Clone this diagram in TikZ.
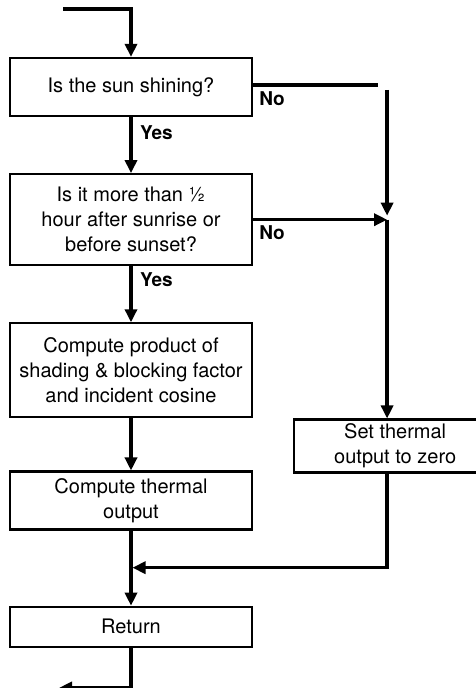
\documentclass[tikz,border=0pt]{standalone}
\usepackage{fontspec}
\setmainfont{TeX Gyre Heros}
\usetikzlibrary{arrows.meta, positioning, calc}
\tikzstyle{arrow} = [line width=3.5pt, -{Triangle[length=13pt,width=12pt]}]
\tikzstyle{line} = [line width=3.5pt]
\tikzstyle{basic} = [rectangle, draw=black, line width=2.2pt, fill=white, text=black, align=center, font=\fontsize{20}{25}\selectfont, minimum width=242pt]
\tikzstyle{answer} = [inner sep=0pt, anchor=base west, font=\fontsize{19}{22}\selectfont\bfseries]

\begin{document}
\begin{tikzpicture}[node distance=56pt]
\useasboundingbox (0,0) rectangle (475pt,688pt);

\node (sun) [basic, minimum height=58pt] at (131pt,601pt) {Is the sun shining?};
\node (hour) [basic, minimum height=91pt, below=of sun] {Is it more than ½\\hour after sunrise or\\before sunset?};
\node (product) [basic, minimum height=94pt, below=of hour] {Compute product of\\shading \& blocking factor\\and incident cosine};
\node (thermal) [basic, minimum height=58pt, below=52pt of product] {Compute thermal\\output};
\node (return) [basic, minimum height=40pt, below=75pt of thermal] {Return};
\node (zero) [basic, minimum width=202pt, minimum height=53pt, anchor=north west, xshift=40pt] at(product.south east) {Set thermal\\output to zero};

\coordinate (entry) at ($(sun.north)+(-68pt,48pt)$);
\coordinate (rightX) at ($(zero.north west)+(94pt,0)$);
\coordinate (join) at (rightX |- hour.east);
\coordinate (noCorner) at (rightX |- sun.east);
\coordinate (noEnd) at ($(noCorner)+(-9pt,2pt)$);
\coordinate (noTop) at ($(noCorner)+(0,-3pt)$);
\coordinate (merge) at ($(thermal.south)+(0,-37pt)$);
\coordinate (exit) at ($(return.south)+(-72pt,-40pt)$);

\draw [arrow] (entry) -| (sun.north);
\draw [arrow] (sun.south) -- (hour.north);
\draw [arrow] (hour.south) -- (product.north);
\draw [arrow] (product.south) -- (thermal.north);
\draw [arrow] (thermal.south) -- (return.north);
\draw [arrow] (return.south) |- (exit);

\draw [line] (sun.east |- noEnd) -- (noEnd);
\draw [arrow] (noTop) -- ($(join)+(0,4pt)$);
\draw [arrow] (hour.east) -- (join);
\draw [arrow] (join) -- (rightX);
\draw [arrow, shorten >=1.5pt] (rightX |- zero.south) |- (merge);

\node (noA) [answer] at ($(sun.east)+(6pt,-19pt)$) {No};
\node (yesA) [answer] at ($(sun.south)+(9pt,-22pt)$) {Yes};
\node (noB) [answer] at ($(hour.east)+(6pt,-20pt)$) {No};
\node (yesB) [answer] at ($(hour.south)+(9pt,-20pt)$) {Yes};

\end{tikzpicture}
\end{document}
